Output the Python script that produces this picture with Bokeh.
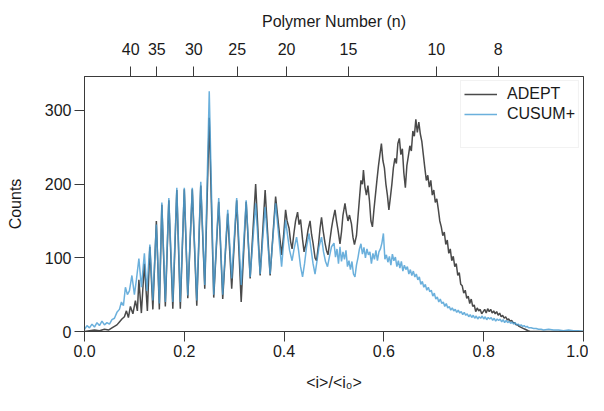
from bokeh.plotting import figure
from bokeh.models import (Range1d, LinearAxis, FixedTicker, CustomJSTickFormatter,
                          PrintfTickFormatter, Legend, LegendItem)
from bokeh.embed import file_html
from bokeh.resources import INLINE

# ---- data: (<i>/<i0>, counts) ----
adept_points = [
    (0.000, 0), (0.010, 1), (0.020, 2), (0.030, 1), (0.040, 3), (0.048, 2), (0.055, 5),
    (0.060, 7), (0.065, 9), (0.070, 13), (0.075, 17), (0.080, 20), (0.084, 28), (0.088, 19),
    (0.092, 34), (0.097, 24), (0.102, 42), (0.106, 28), (0.109, 70), (0.114, 25), (0.120, 92),
    (0.126, 28), (0.131, 115), (0.137, 30), (0.144, 150), (0.150, 30), (0.155, 172),
    (0.162, 34), (0.169, 178), (0.177, 31), (0.185, 192), (0.192, 31), (0.200, 193),
    (0.207, 45), (0.216, 193), (0.225, 35), (0.233, 198), (0.241, 58), (0.250, 290),
    (0.259, 46), (0.269, 176), (0.277, 44), (0.287, 160), (0.295, 58), (0.305, 178),
    (0.314, 40), (0.324, 176), (0.332, 72), (0.343, 200), (0.352, 76), (0.362, 192),
    (0.372, 76), (0.383, 183), (0.395, 104), (0.399, 130), (0.403, 165), (0.406, 150),
    (0.410, 140), (0.413, 122), (0.416, 112), (0.420, 135), (0.423, 150), (0.427, 162),
    (0.430, 145), (0.433, 152), (0.437, 125), (0.440, 108), (0.444, 120), (0.448, 138),
    (0.452, 150), (0.455, 132), (0.458, 120), (0.462, 100), (0.465, 96), (0.469, 118),
    (0.472, 140), (0.475, 155), (0.478, 138), (0.482, 120), (0.485, 110), (0.488, 104),
    (0.492, 125), (0.495, 140), (0.498, 152), (0.502, 165), (0.505, 150), (0.508, 138),
    (0.512, 119), (0.515, 135), (0.518, 158), (0.522, 174), (0.525, 160), (0.528, 150),
    (0.531, 158), (0.535, 146), (0.538, 128), (0.541, 118), (0.545, 130), (0.548, 155),
    (0.551, 180), (0.554, 205), (0.557, 200), (0.559, 219), (0.562, 196), (0.565, 185),
    (0.568, 198), (0.571, 178), (0.574, 150), (0.577, 142), (0.580, 165), (0.583, 185),
    (0.586, 205), (0.589, 224), (0.592, 240), (0.595, 255), (0.598, 232), (0.601, 222),
    (0.604, 200), (0.607, 185), (0.610, 165), (0.613, 182), (0.616, 200), (0.619, 222),
    (0.622, 235), (0.625, 228), (0.628, 255), (0.631, 262), (0.634, 240), (0.637, 248),
    (0.640, 215), (0.643, 195), (0.646, 225), (0.649, 238), (0.652, 252), (0.655, 245),
    (0.658, 272), (0.661, 265), (0.664, 288), (0.667, 270), (0.670, 284), (0.673, 268),
    (0.676, 258), (0.679, 240), (0.682, 222), (0.685, 205), (0.688, 212), (0.691, 196),
    (0.694, 205), (0.697, 185), (0.700, 192), (0.703, 175), (0.706, 180), (0.709, 166),
    (0.712, 150), (0.715, 142), (0.718, 130), (0.721, 135), (0.724, 118), (0.727, 124),
    (0.730, 106), (0.733, 112), (0.736, 96), (0.739, 102), (0.742, 88), (0.745, 92),
    (0.748, 76), (0.751, 80), (0.754, 64), (0.757, 62), (0.760, 52), (0.763, 56),
    (0.766, 45), (0.769, 48), (0.772, 38), (0.775, 44), (0.778, 34), (0.781, 36),
    (0.784, 27), (0.787, 32), (0.790, 28), (0.793, 30), (0.796, 24), (0.799, 27),
    (0.802, 30), (0.805, 25), (0.808, 31), (0.811, 27), (0.814, 30), (0.817, 25),
    (0.820, 28), (0.823, 24), (0.826, 27), (0.829, 22), (0.832, 25), (0.835, 20),
    (0.838, 22), (0.841, 18), (0.844, 20), (0.847, 16), (0.850, 17), (0.853, 14),
    (0.856, 15), (0.859, 12), (0.862, 12), (0.865, 9), (0.868, 9), (0.871, 7),
    (0.874, 6), (0.877, 5), (0.880, 4), (0.883, 3), (0.886, 2), (0.889, 1),
    (0.893, 0), (0.950, 0), (1.000, 0),
]

cusum_points = [
    (0.000, 3), (0.005, 8), (0.010, 5), (0.015, 10), (0.020, 6), (0.025, 12), (0.030, 8),
    (0.035, 14), (0.040, 9), (0.045, 12), (0.050, 10), (0.055, 16), (0.060, 18), (0.065, 26),
    (0.070, 30), (0.074, 40), (0.078, 35), (0.082, 60), (0.086, 50), (0.090, 55), (0.095, 76),
    (0.100, 50), (0.104, 70), (0.109, 99), (0.114, 60), (0.120, 106), (0.125, 55),
    (0.131, 118), (0.137, 42), (0.144, 145), (0.150, 38), (0.155, 175), (0.162, 40),
    (0.169, 181), (0.177, 40), (0.185, 195), (0.192, 40), (0.200, 195), (0.207, 49),
    (0.216, 195), (0.225, 42), (0.233, 203), (0.241, 63), (0.250, 326), (0.259, 50),
    (0.269, 181), (0.277, 50), (0.287, 165), (0.295, 72), (0.305, 181), (0.314, 63),
    (0.324, 178), (0.332, 74), (0.343, 174), (0.352, 78), (0.362, 169), (0.372, 78),
    (0.383, 174), (0.395, 88), (0.399, 120), (0.403, 151), (0.407, 130), (0.411, 110),
    (0.416, 96), (0.420, 112), (0.425, 128), (0.429, 110), (0.433, 88), (0.437, 74),
    (0.441, 92), (0.445, 115), (0.450, 133), (0.454, 112), (0.458, 92), (0.462, 78),
    (0.466, 96), (0.470, 115), (0.475, 128), (0.479, 108), (0.483, 95), (0.487, 88),
    (0.491, 102), (0.495, 115), (0.500, 120), (0.503, 101), (0.506, 112), (0.509, 92),
    (0.512, 115), (0.515, 95), (0.518, 108), (0.521, 98), (0.524, 110), (0.527, 88),
    (0.530, 96), (0.533, 84), (0.536, 95), (0.539, 78), (0.542, 74), (0.545, 90),
    (0.548, 100), (0.551, 112), (0.554, 119), (0.557, 105), (0.560, 114), (0.563, 100),
    (0.566, 112), (0.569, 104), (0.572, 108), (0.575, 92), (0.578, 106), (0.581, 98),
    (0.584, 110), (0.587, 96), (0.590, 108), (0.593, 112), (0.596, 120), (0.599, 133),
    (0.602, 98), (0.605, 104), (0.608, 94), (0.611, 102), (0.614, 90), (0.617, 105),
    (0.620, 96), (0.623, 101), (0.626, 88), (0.629, 96), (0.632, 86), (0.635, 95),
    (0.638, 82), (0.641, 90), (0.644, 84), (0.647, 88), (0.650, 78), (0.653, 84),
    (0.656, 76), (0.659, 82), (0.662, 74), (0.665, 78), (0.668, 70), (0.671, 74),
    (0.674, 64), (0.677, 68), (0.680, 60), (0.683, 64), (0.686, 56), (0.689, 60),
    (0.692, 54), (0.695, 56), (0.698, 48), (0.701, 52), (0.704, 44), (0.707, 47),
    (0.710, 40), (0.713, 44), (0.716, 38), (0.719, 40), (0.722, 34), (0.725, 38),
    (0.728, 32), (0.731, 34), (0.734, 29), (0.737, 32), (0.740, 28), (0.743, 30),
    (0.746, 26), (0.749, 29), (0.752, 25), (0.755, 27), (0.758, 23), (0.761, 26),
    (0.764, 22), (0.767, 24), (0.770, 20), (0.773, 23), (0.776, 19), (0.779, 22),
    (0.782, 18), (0.785, 21), (0.788, 17), (0.791, 20), (0.794, 18), (0.797, 21),
    (0.800, 17), (0.803, 20), (0.806, 16), (0.809, 19), (0.812, 17), (0.815, 19),
    (0.818, 15), (0.821, 18), (0.824, 14), (0.827, 17), (0.830, 15), (0.833, 17),
    (0.836, 13), (0.839, 16), (0.842, 12), (0.845, 15), (0.848, 12), (0.851, 14),
    (0.854, 11), (0.857, 13), (0.860, 10), (0.863, 12), (0.866, 9), (0.869, 10),
    (0.872, 8), (0.875, 9), (0.878, 7), (0.881, 8), (0.884, 6), (0.887, 7),
    (0.890, 5), (0.895, 5), (0.900, 4), (0.905, 4), (0.910, 3), (0.915, 3),
    (0.920, 2), (0.930, 3), (0.940, 2), (0.950, 2), (0.960, 1), (0.970, 2),
    (0.980, 1), (0.990, 1), (1.000, 0),
]

adept_x = [pt[0] for pt in adept_points]
adept_y = [pt[1] for pt in adept_points]
cusum_x = [pt[0] for pt in cusum_points]
cusum_y = [pt[1] for pt in cusum_points]

x_ticks = [0.0, 0.2, 0.4, 0.6, 0.8, 1.0]
y_ticks = [0, 100, 200, 300]
top_tick_pos = [0.0926, 0.145, 0.219, 0.306, 0.405, 0.529, 0.705, 0.829]
top_tick_labels = ["40", "35", "30", "25", "20", "15", "10", "8"]

FONT = "Liberation Sans"
AX = "#3a3a3a"
TXT = "#1a1a1a"

p = figure(width=588, height=395, output_backend="svg", toolbar_location=None,
           x_range=Range1d(0, 1), y_range=Range1d(0, 346),
           min_border_left=84, min_border_right=5, min_border_top=76, min_border_bottom=64,
           x_axis_label="<i>/<i\u2080>", y_axis_label="Counts")
p.grid.visible = False
p.outline_line_color = AX
p.outline_line_width = 1
p.background_fill_color = "white"
p.border_fill_color = "white"

r1 = p.line(adept_x, adept_y, line_color="#4a4a4a", line_width=1.5)
r2 = p.line(cusum_x, cusum_y, line_color="#4a9fd4", line_width=1.5, line_alpha=0.82)
r3 = p.line([], [], line_alpha=0)

for ax in (p.xaxis[0], p.yaxis[0]):
    ax.axis_line_color = AX
    ax.major_tick_line_color = AX
    ax.major_tick_out = 10
    ax.major_tick_in = 0
    ax.minor_tick_out = 0
    ax.minor_tick_in = 0
    ax.major_label_text_font = FONT
    ax.major_label_text_font_size = "16px"
    ax.major_label_text_color = TXT
    ax.axis_label_text_font = FONT
    ax.axis_label_text_font_size = "16px"
    ax.axis_label_text_font_style = "normal"
    ax.axis_label_text_color = TXT

p.xaxis[0].ticker = FixedTicker(ticks=x_ticks)
p.xaxis[0].formatter = PrintfTickFormatter(format="%.1f")
p.xaxis[0].major_label_standoff = 3
p.xaxis[0].axis_label_standoff = 14
p.yaxis[0].ticker = FixedTicker(ticks=y_ticks)
p.yaxis[0].major_label_standoff = 3
p.yaxis[0].axis_label_standoff = 18

top = LinearAxis(ticker=FixedTicker(ticks=top_tick_pos),
                 formatter=CustomJSTickFormatter(args=dict(labels=top_tick_labels),
                                                 code="return labels[index];"),
                 axis_label="Polymer Number (n)")
top.axis_line_color = AX
top.major_tick_line_color = AX
top.major_tick_out = 10
top.major_tick_in = 0
top.minor_tick_out = 0
top.minor_tick_in = 0
top.major_label_standoff = 12
top.axis_label_standoff = 10
top.major_label_text_font = FONT
top.major_label_text_font_size = "16px"
top.major_label_text_color = TXT
top.axis_label_text_font = FONT
top.axis_label_text_font_size = "16px"
top.axis_label_text_font_style = "normal"
top.axis_label_text_color = TXT
p.add_layout(top, "above")

legend = Legend(items=[LegendItem(label="ADEPT", renderers=[r1]),
                       LegendItem(label="CUSUM+", renderers=[r2]),
                       LegendItem(label=" ", renderers=[r3])],
                location="top_right")
legend.margin = 4
legend.label_text_font = FONT
legend.label_text_font_size = "16px"
legend.label_text_color = TXT
legend.padding = 3
legend.spacing = 0
legend.label_height = 20
legend.glyph_height = 20
legend.glyph_width = 33
legend.label_standoff = 10
legend.border_line_color = "#e6e6e6"
legend.border_line_width = 1
legend.background_fill_alpha = 1
p.add_layout(legend)

open("out.html", "w").write(file_html(p, INLINE))
